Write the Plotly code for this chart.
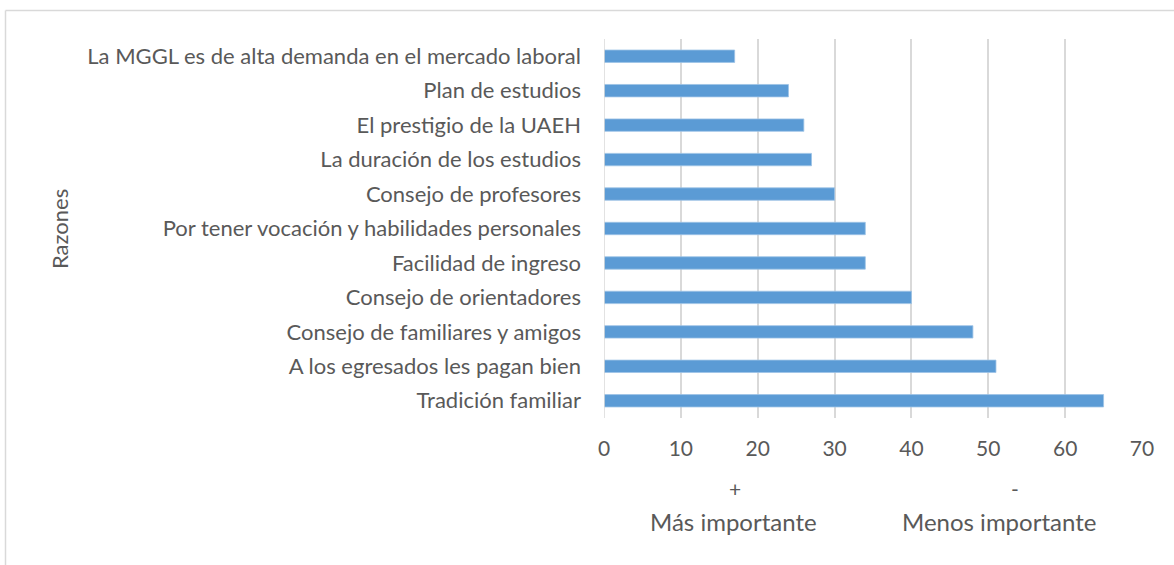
import plotly.graph_objects as go

razones = [
    "Tradición familiar",
    "A los egresados les pagan bien",
    "Consejo de familiares y amigos",
    "Consejo de orientadores",
    "Facilidad de ingreso",
    "Por tener vocación y habilidades personales",
    "Consejo de profesores",
    "La duración de los estudios",
    "El prestigio de la UAEH",
    "Plan de estudios",
    "La MGGL es de alta demanda en el mercado laboral",
]
valores = [65, 51, 48, 40, 34, 34, 30, 27, 26, 24, 17]
x_ticks = [0, 10, 20, 30, 40, 50, 60, 70]

W, H = 1174, 565
L, T = 604, 39
R = W - 1142
B = H - 418
pw = W - L - R
ph = H - T - B

def px(x):
    return (x - L) / pw

def py(y):
    return 1 - (y - T) / ph

txt = "#595959"
fam = "Lato, Open Sans, sans-serif"
font = dict(family=fam, size=21, color=txt)

fig = go.Figure()
fig.add_trace(go.Bar(
    y=razones, x=valores, orientation="h",
    marker=dict(color="#5b9bd5", line=dict(color="#9dc3e6", width=0.8)),
    width=0.36,
))

fig.update_layout(
    width=W, height=H,
    margin=dict(l=L, r=R, t=T, b=B),
    paper_bgcolor="white", plot_bgcolor="white",
    font=font,
    showlegend=False,
)
fig.update_xaxes(
    range=[0, 70], tickvals=x_ticks, showgrid=True, gridcolor="#d9d9d9", gridwidth=1.5,
    zeroline=False, showline=False, ticks="", ticklabelstandoff=16,
    tickfont=dict(family=fam, size=21, color=txt),
)
fig.update_yaxes(
    showgrid=False, zeroline=False, showline=False, ticks="",
    ticklabelstandoff=22, tickfont=dict(family=fam, size=22, color=txt),
    categoryorder="array", categoryarray=razones,
)

# axis line at zero
fig.add_shape(type="line", xref="x", yref="paper", x0=0, x1=0, y0=0, y1=1,
              line=dict(color="#d9d9d9", width=1.5))

# outer chart border: top and left edges only show in the crop
fig.add_shape(type="line", xref="paper", yref="paper",
              x0=px(5.5), x1=px(1180), y0=py(10.5), y1=py(10.5),
              line=dict(color="#d9d9d9", width=1.5))
fig.add_shape(type="line", xref="paper", yref="paper",
              x0=px(5.5), x1=px(5.5), y0=py(10.5), y1=py(575),
              line=dict(color="#d9d9d9", width=1.5))

ann = [
    ("Razones", 59, 229, -90, 22),
    ("+", 735, 488, 0, 21),
    ("Más importante", 733, 521, 0, 24),
    ("-", 1015, 488, 0, 21),
    ("Menos importante", 999, 521, 0, 24),
]
for t, x, y, a, s in ann:
    fig.add_annotation(text=t, x=px(x), y=py(y), xref="paper", yref="paper",
                       showarrow=False, textangle=a,
                       font=dict(family=fam, size=s, color=txt),
                       xanchor="center", yanchor="middle")

fig.write_html("out.html", config={"displayModeBar": False},
               post_script="document.body.style.margin='0';")
